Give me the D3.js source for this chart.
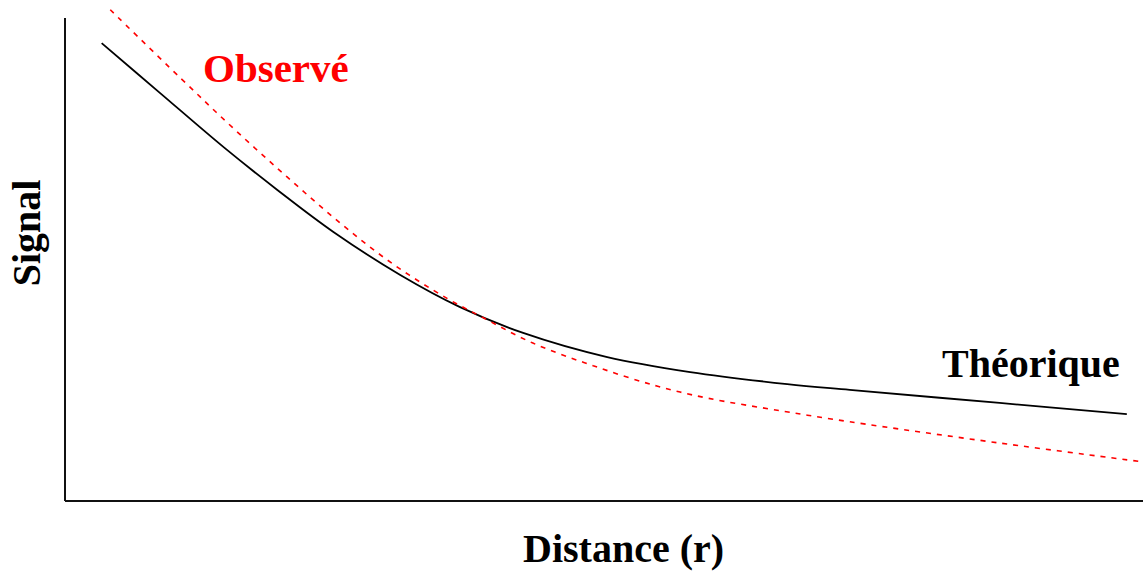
<!DOCTYPE html>
<html><head><meta charset="utf-8">
<script src="https://cdn.jsdelivr.net/npm/d3@7"></script>
<style>html,body{margin:0;padding:0;background:#fff;}svg{display:block;}</style>
</head><body>
<svg id="c" width="1143" height="572"></svg>
<script>
// Data (arbitrary units: distance 0-10, signal 0-10)
const theoDistance = [0.34, 0.88, 1.48, 1.97, 2.49, 3.11, 3.66, 4.25, 5.03, 5.80, 6.70, 7.28, 8.67, 9.85];
const theoSignal   = [9.48, 8.45, 7.31, 6.44, 5.57, 4.68, 4.02, 3.48, 2.98, 2.67, 2.42, 2.30, 2.03, 1.80];
const obsDistance  = [0.42, 1.07, 1.56, 2.06, 2.55, 3.04, 3.54, 3.85, 4.34, 4.90, 5.49, 5.96, 6.66, 7.28, 8.67, 10.0];
const obsSignal    = [10.17, 8.76, 7.72, 6.71, 5.76, 4.91, 4.20, 3.83, 3.27, 2.80, 2.38, 2.13, 1.86, 1.64, 1.20, 0.81];
const labels = { x: "Distance (r)", y: "Signal", obs: "Observé", theo: "Théorique" };

const svg = d3.select("#c");
const x = d3.scaleLinear().domain([0, 10]).range([65, 1143]);
const y = d3.scaleLinear().domain([0, 10]).range([501, 18]);
const font = "'Liberation Serif','Times New Roman',serif";

// axes
svg.append("line").attr("x1", x(0)).attr("x2", x(0)).attr("y1", y(10)).attr("y2", y(0))
  .attr("stroke", "#111").attr("stroke-width", 2);
svg.append("line").attr("x1", x(0)).attr("x2", x(10)).attr("y1", y(0)).attr("y2", y(0))
  .attr("stroke", "#111").attr("stroke-width", 2);

const line = d3.line().x(d => x(d[0])).y(d => y(d[1])).curve(d3.curveCatmullRom.alpha(0.5));

svg.append("path").datum(d3.zip(theoDistance, theoSignal))
  .attr("d", line).attr("fill", "none").attr("stroke", "#000").attr("stroke-width", 1.8);
svg.append("path").datum(d3.zip(obsDistance, obsSignal))
  .attr("d", line).attr("fill", "none").attr("stroke", "#ff0000").attr("stroke-width", 1.6)
  .attr("stroke-dasharray", "5,6");

svg.append("text").attr("x", 203).attr("y", 82).text(labels.obs)
  .attr("font-family", font).attr("font-weight", "bold").attr("font-size", 41).attr("fill", "#ff0000");
svg.append("text").attr("x", 942).attr("y", 377).text(labels.theo)
  .attr("font-family", font).attr("font-weight", "bold").attr("font-size", 40).attr("fill", "#000");
svg.append("text").attr("x", 523).attr("y", 562).text(labels.x)
  .attr("font-family", font).attr("font-weight", "bold").attr("font-size", 40).attr("fill", "#000");
svg.append("text").attr("transform", "translate(40,233) rotate(-90)").attr("text-anchor", "middle")
  .text(labels.y).attr("font-family", font).attr("font-weight", "bold").attr("font-size", 40).attr("fill", "#000");
</script>
</body></html>
